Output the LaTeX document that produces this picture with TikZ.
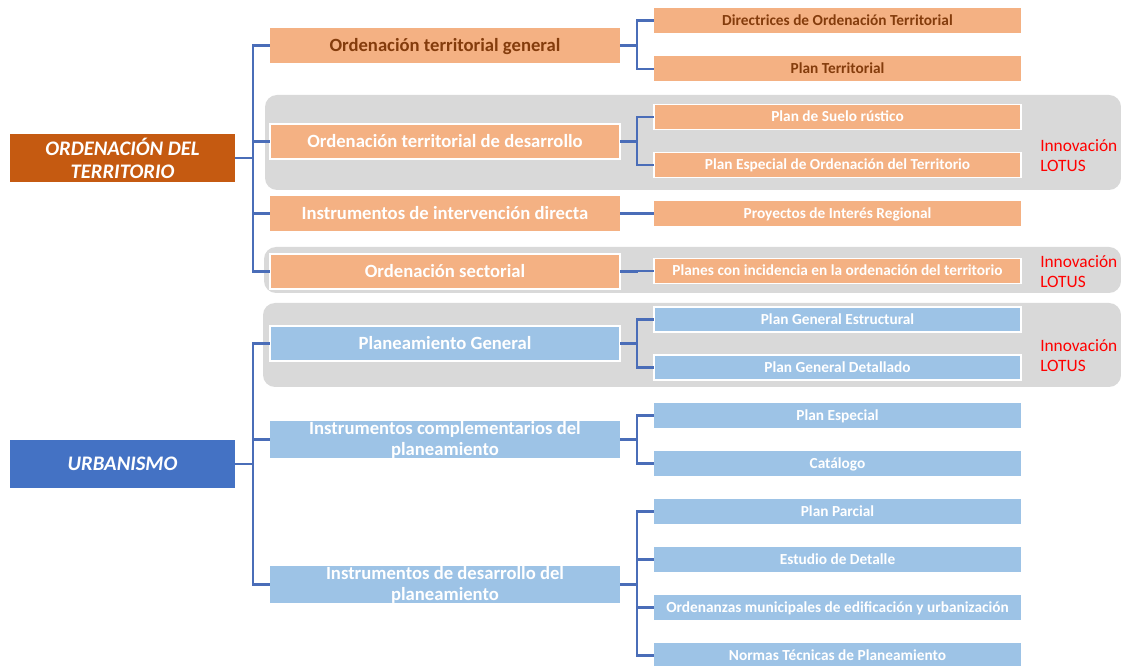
\documentclass[tikz,border=0pt]{standalone}
\usepackage{fontspec}
\setmainfont{Carlito}
\definecolor{orgdark}{HTML}{C55A11}
\definecolor{orgl}{HTML}{F4B183}
\definecolor{bluedark}{HTML}{4472C4}
\definecolor{bluel}{HTML}{9DC3E6}
\definecolor{brownt}{HTML}{843C0C}
\definecolor{panelc}{HTML}{D9D9D9}
\definecolor{connc}{HTML}{4A6DB8}
\definecolor{lotusred}{HTML}{FF0000}
\begin{document}
\begin{tikzpicture}[x=0.75pt,y=-0.75pt,
  rootbox/.style={inner sep=0pt, outer sep=0pt, minimum width=168.75pt, minimum height=36pt, text=white, font=\fontsize{15.5}{17.25}\selectfont\bfseries\itshape, align=center},
  lvtwo/.style={inner sep=0pt, outer sep=0pt, minimum width=262.5pt, minimum height=26.25pt, font=\fontsize{14}{15.75}\selectfont\bfseries, text=white, text height=10pt, text depth=1.6pt},
  lvtwoml/.style={inner sep=0pt, outer sep=0pt, minimum width=262.5pt, minimum height=26.25pt, font=\fontsize{14}{15.75}\selectfont\bfseries, text=white, align=center},
  lvthree/.style={inner sep=0pt, outer sep=0pt, minimum width=275.25pt, minimum height=18.75pt, font=\fontsize{11.5}{13}\selectfont\bfseries, text=white, text height=8pt, text depth=1.1pt},
  inpanel/.style={draw=white, line width=1.1pt},
  orgbox/.style={fill=orgl},
  bluebox/.style={fill=bluel},
  cn/.style={draw=connc, line width=1.6pt},
  panel/.style={fill=panelc, rounded corners=9pt},
  lotus/.style={text=lotusred, font=\fontsize{13}{15}\selectfont, align=left, anchor=west, inner sep=0pt}
]
\useasboundingbox (0,0) rectangle (1121,666);
\fill[white] (0,0) rectangle (1121,666);

% gray panels
\fill[panel] (265,95) rectangle (1121,190);
\fill[panel] (264,247) rectangle (1121,293);
\fill[panel] (263,303) rectangle (1121,387);

% trunk coordinates
\coordinate (t1) at (253,0);
\coordinate (s) at (637,0);

% roots
\node[rootbox, fill=orgdark] (r1) at (122.5,158) {ORDENACIÓN DEL\\TERRITORIO};
\node[rootbox, fill=bluedark] (r2) at (122.5,464) {URBANISMO};

% level 2
\node[lvtwo, orgbox, text=brownt] (a1) at (445,45.5) {Ordenación territorial general};
\node[lvtwo, orgbox, inpanel] (a2) at (445,141.5) {Ordenación territorial de desarrollo};
\node[lvtwo, orgbox] (a3) at (445,213.5) {Instrumentos de intervención directa};
\node[lvtwo, orgbox, inpanel] (a4) at (445,271.5) {Ordenación sectorial};
\node[lvtwo, bluebox, inpanel] (a5) at (445,343.5) {Planeamiento General};
\node[lvtwoml, bluebox] (a6) at (445,439.5) {Instrumentos complementarios del\\planeamiento};
\node[lvtwoml, bluebox] (a7) at (445,584.5) {Instrumentos de desarrollo del\\planeamiento};

% level 3
\node[lvthree, orgbox, text=brownt] (b1) at (837.5,20.5) {Directrices de Ordenación Territorial};
\node[lvthree, orgbox, text=brownt] (b2) at (837.5,69) {Plan Territorial};
\node[lvthree, orgbox, inpanel] (b3) at (837.5,117) {Plan de Suelo rústico};
\node[lvthree, orgbox, inpanel] (b4) at (837.5,165) {Plan Especial de Ordenación del Territorio};
\node[lvthree, orgbox] (b5) at (837.5,213.5) {Proyectos de Interés Regional};
\node[lvthree, orgbox, inpanel] (b6) at (837.5,271) {Planes con incidencia en la ordenación del territorio};
\node[lvthree, bluebox, inpanel] (b7) at (837.5,319.5) {Plan General Estructural};
\node[lvthree, bluebox, inpanel] (b8) at (837.5,367.5) {Plan General Detallado};
\node[lvthree, bluebox] (b9) at (837.5,415.5) {Plan Especial};
\node[lvthree, bluebox] (b10) at (837.5,463.5) {Catálogo};
\node[lvthree, bluebox] (b11) at (837.5,511.5) {Plan Parcial};
\node[lvthree, bluebox] (b12) at (837.5,559.5) {Estudio de Detalle};
\node[lvthree, bluebox] (b13) at (837.5,607.5) {Ordenanzas municipales de edificación y urbanización};
\node[lvthree, bluebox] (b14) at (837.5,655.5) {Normas Técnicas de Planeamiento};

% connectors root -> level 2
\foreach \c in {a1,a2,a3,a4}
  \draw[cn] (r1.east) -- (r1.east -| t1) |- (\c.west);
\foreach \c in {a5,a6,a7}
  \draw[cn] (r2.east) -- (r2.east -| t1) |- (\c.west);

% connectors level 2 -> level 3
\foreach \p/\c in {a1/b1,a1/b2,a2/b3,a2/b4,a3/b5,a4/b6,a5/b7,a5/b8,a6/b9,a6/b10,a7/b11,a7/b12,a7/b13,a7/b14}
  \draw[cn] (\p.east) -- (\p.east -| s) |- (\c.west);

% annotations
\node[lotus] (l1) at (1040,156) {Innovación\\LOTUS};
\node[lotus] (l2) at (1040,272) {Innovación\\LOTUS};
\node[lotus] (l3) at (1040,356) {Innovación\\LOTUS};
\end{tikzpicture}
\end{document}
